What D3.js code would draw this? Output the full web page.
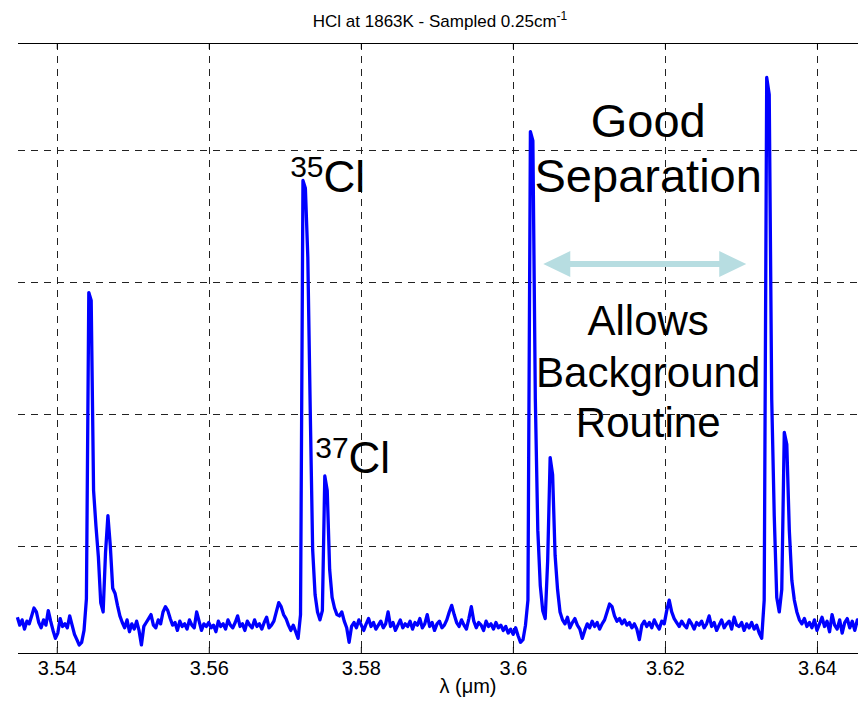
<!DOCTYPE html>
<html>
<head>
<meta charset="utf-8">
<script src="https://cdn.jsdelivr.net/npm/d3@7"></script>
<style>
  body { margin: 0; background: #fff; }
  text { font-family: "Liberation Sans", Arial, Helvetica, sans-serif; fill: #000; }
</style>
</head>
<body>
<div id="chart"></div>
<script>
// spectrum, one value every 0.25 cm-1 starting from 2829 cm-1 (short wavelength end)
var nuStart = 2829;
var nuStep = 0.25;
var signal = [
  46, 40, 44, 37, 43, 41, 47, 53, 50, 42,
  38, 44, 40, 51, 43, 36, 30, 34, 45, 39,
  41, 38, 47, 40, 33, 29, 25, 27, 36, 60,
  292, 286, 142, 115, 92, 57, 50, 95, 123, 100,
  68, 64, 55, 47, 42, 38, 44, 35, 41, 37,
  43, 36, 25, 39, 42, 45, 48, 40, 38, 44,
  41, 50, 54, 51, 45, 40, 42, 36, 43, 39,
  41, 37, 44, 40, 38, 50, 43, 36, 41, 39,
  42, 38, 40, 35, 43, 39, 41, 37, 44, 40,
  38, 42, 47, 39, 41, 36, 43, 40, 38, 44,
  39, 41, 37, 42, 46, 38, 40, 43, 50, 57,
  54, 48, 45, 40, 36, 40, 35, 30, 48, 377,
  371, 319, 203, 97, 63, 50, 44, 51, 153, 142,
  82, 61, 53, 48, 47, 50, 43, 38, 27, 39,
  42, 38, 44, 40, 36, 41, 45, 39, 42, 37,
  40, 43, 38, 41, 50, 39, 42, 36, 40, 44,
  38, 41, 39, 43, 37, 42, 40, 45, 38, 41,
  48, 39, 42, 36, 41, 43, 38, 40, 44, 50,
  55, 48, 42, 39, 44, 40, 37, 45, 54, 43,
  38, 42, 40, 36, 43, 39, 41, 37, 42, 38,
  40, 36, 39, 34, 37, 33, 38, 32, 27, 29,
  40, 59, 414, 407, 211, 112, 70, 51, 45, 89,
  167, 154, 93, 67, 50, 44, 41, 46, 38, 42,
  45, 40, 37, 30, 36, 41, 38, 43, 39, 42,
  37, 41, 44, 50, 56, 54, 47, 43, 45, 41,
  44, 40, 42, 38, 41, 37, 29, 40, 43, 39,
  42, 38, 44, 40, 37, 43, 41, 51, 59, 50,
  45, 42, 39, 43, 40, 38, 44, 41, 37, 42,
  40, 43, 38, 41, 47, 39, 42, 36, 40, 44,
  38, 41, 43, 37, 46, 40, 39, 42, 36, 41,
  38, 42, 37, 40, 34, 30, 59, 455, 442, 211,
  123, 61, 50, 67, 186, 177, 112, 74, 59, 50,
  44, 41, 45, 39, 42, 38, 44, 36, 41, 46,
  39, 43, 35, 48, 40, 37, 44, 34, 42, 45,
  38, 43, 36, 44, 40
];

var xTicks = [3.54, 3.56, 3.58, 3.60, 3.62, 3.64];
var xTickLabels = ["3.54", "3.56", "3.58", "3.6", "3.62", "3.64"];
var yTicks = [100, 200, 300, 400];

var svgWidth = 858;
var svgHeight = 701;

var plot = { left: 18, right: 858, top: 43, bottom: 653 };

var svg = d3.select("#chart")
  .append("svg")
  .attr("width", svgWidth)
  .attr("height", svgHeight)
  .style("background", "#fff");

var xScale = d3.scaleLinear()
  .domain([3.5349, 3.6454])
  .range([plot.left, plot.right]);

var yScale = d3.scaleLinear()
  .domain([18.9, 481.1])
  .range([plot.bottom, plot.top]);

// grid
var grid = svg.append("g")
  .attr("stroke", "#222")
  .attr("stroke-width", 1)
  .attr("stroke-dasharray", "7,6");

grid.selectAll(".vgrid")
  .data(xTicks)
  .enter()
  .append("line")
  .attr("x1", d => Math.round(xScale(d)) + 0.5)
  .attr("x2", d => Math.round(xScale(d)) + 0.5)
  .attr("y1", plot.top)
  .attr("y2", plot.bottom);

grid.selectAll(".hgrid")
  .data(yTicks)
  .enter()
  .append("line")
  .attr("x1", plot.left)
  .attr("x2", plot.right)
  .attr("y1", d => Math.round(yScale(d)) + 0.5)
  .attr("y2", d => Math.round(yScale(d)) + 0.5);

// top and bottom axes
var xAxis = d3.axisBottom(xScale)
  .tickValues(xTicks)
  .tickSize(-6)
  .tickFormat((d, i) => xTickLabels[i]);

var bottomAxis = svg.append("g")
  .attr("transform", `translate(0, ${plot.bottom})`)
  .call(xAxis);

bottomAxis.select(".domain").attr("d", `M${plot.left},0.5H${plot.right}`).attr("stroke", "#000");
bottomAxis.selectAll("line").attr("stroke", "#000");
bottomAxis.selectAll("text")
  .attr("y", 22)
  .attr("dy", 0)
  .style("font-size", "20px")
  .style("font-family", "'Liberation Sans', Arial, sans-serif");

var topAxis = svg.append("g")
  .attr("transform", `translate(0, ${plot.top})`)
  .call(d3.axisTop(xScale).tickValues(xTicks).tickSize(-6).tickFormat(""));

topAxis.select(".domain").attr("d", `M${plot.left},0.5H${plot.right}`).attr("stroke", "#000");
topAxis.selectAll("line").attr("stroke", "#000");

// spectrum
var line = d3.line()
  .x((d, i) => xScale(1e4 / (nuStart - i * nuStep)))
  .y(d => yScale(d));

svg.append("path")
  .datum(signal)
  .attr("d", line)
  .attr("fill", "none")
  .attr("stroke", "#0000ff")
  .attr("stroke-width", 3.3)
  .attr("stroke-linejoin", "round");

// title and axis label
var title = svg.append("text")
  .attr("x", 440)
  .attr("y", 27)
  .attr("text-anchor", "middle")
  .style("font-size", "17px")
  .text("HCl at 1863K - Sampled 0.25cm");
title.append("tspan")
  .attr("dy", -7)
  .style("font-size", "12px")
  .text("-1");

svg.append("text")
  .attr("x", 468)
  .attr("y", 693)
  .attr("text-anchor", "middle")
  .style("font-size", "20px")
  .text("λ (μm)");

// isotope labels
var isotopes = [
  { mass: "35", x: 3.5707, y: 368 },
  { mass: "37", x: 3.5740, y: 155 }
];

isotopes.forEach(function(d) {
  var t = svg.append("text")
    .attr("x", xScale(d.x))
    .attr("y", yScale(d.y));
  t.append("tspan").attr("dy", -15).style("font-size", "30px").text(d.mass);
  t.append("tspan").attr("dy", 15).style("font-size", "44px").text("Cl");
});

// separation note
var noteX = 3.6178;
var noteLines = [
  { text: "Good", y: 410, size: 47 },
  { text: "Separation", y: 368, size: 47 },
  { text: "Allows", y: 260, size: 42 },
  { text: "Background", y: 220.5, size: 42 },
  { text: "Routine", y: 182.6, size: 42 }
];

svg.selectAll(".note")
  .data(noteLines)
  .enter()
  .append("text")
  .attr("x", xScale(noteX))
  .attr("y", d => yScale(d.y))
  .attr("text-anchor", "middle")
  .style("font-size", d => d.size + "px")
  .text(d => d.text);

// double arrow
var arrowY = yScale(313.6);
var ax1 = xScale(3.6040);
var ax2 = xScale(3.6307);
var head = 27, half = 13, shaft = 3;
svg.append("path")
  .attr("d", `M${ax1},${arrowY} L${ax1 + head},${arrowY - half} L${ax1 + head},${arrowY - shaft}
    L${ax2 - head},${arrowY - shaft} L${ax2 - head},${arrowY - half} L${ax2},${arrowY}
    L${ax2 - head},${arrowY + half} L${ax2 - head},${arrowY + shaft} L${ax1 + head},${arrowY + shaft}
    L${ax1 + head},${arrowY + half} Z`)
  .attr("fill", "#b7dde1");
</script>
</body>
</html>
